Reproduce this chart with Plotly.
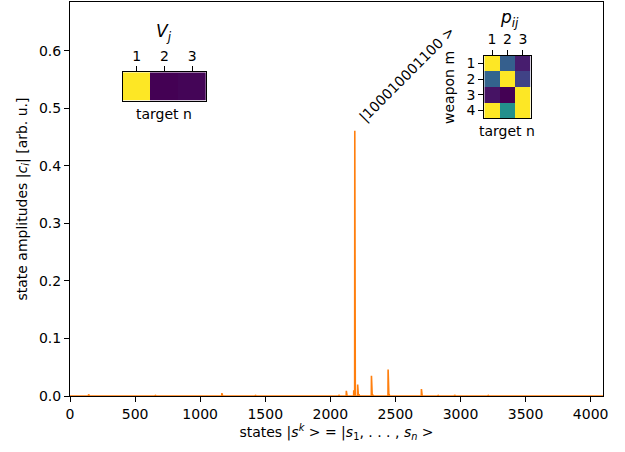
import numpy as np
import plotly.graph_objects as go

# ---- data ----
n_states = 4096
peak_states = [143, 655, 1167, 1424, 2066, 2123, 2180, 2188, 2191, 2210, 2220, 2316, 2328, 2444, 2452, 2700, 2827, 2955, 3212]
peak_amps = [0.003, 0.0015, 0.005, 0.0015, 0.002, 0.009, 0.010, 0.461, 0.004, 0.020, 0.003, 0.035, 0.002, 0.046, 0.003, 0.012, 0.0015, 0.002, 0.0015]

V_targets = [1, 2, 3]
V_values = [1.0, 0.0, 0.01]

p_targets = [1, 2, 3]
p_weapons = [1, 2, 3, 4]
p_values = [
    [1.00, 0.30, 0.08],
    [0.32, 1.00, 0.20],
    [0.05, 0.00, 1.00],
    [1.00, 0.50, 1.00],
]

x_ticks = [0, 500, 1000, 1500, 2000, 2500, 3000, 3500, 4000]
y_ticks = [0.0, 0.1, 0.2, 0.3, 0.4, 0.5, 0.6]
best_state_label = "|100010001100 >"

# ---- build amplitude vector ----
states = np.arange(n_states)
amps = np.zeros(n_states)
for s, a in zip(peak_states, peak_amps):
    amps[s] = a

W, H = 625, 452
L, R, T, B = 70, 22, 2, 56
pw, ph = W - L - R, H - T - B


def px(x):
    return (x - L) / pw


def py(y):
    return (H - B - y) / ph


font = dict(family="DejaVu Sans", size=14, color="black")

fig = go.Figure()
fig.add_trace(go.Scatter(x=states, y=amps, mode="lines",
                         line=dict(color="#ff7f0e", width=1.6),
                         showlegend=False, hoverinfo="skip"))

fig.add_trace(go.Heatmap(z=[V_values], x=V_targets, y=[0], colorscale="Viridis",
                         zmin=0, zmax=1, showscale=False, xaxis="x2", yaxis="y2"))
fig.add_trace(go.Heatmap(z=p_values, x=p_targets, y=p_weapons, colorscale="Viridis",
                         zmin=0, zmax=1, showscale=False, xaxis="x3", yaxis="y3"))

axis_common = dict(showline=True, linecolor="black", linewidth=1, mirror=True,
                   ticks="outside", ticklen=5, tickcolor="black", tickwidth=1,
                   showgrid=False, zeroline=False, tickfont=font, automargin=False)

fig.update_layout(
    width=W, height=H,
    margin=dict(l=L, r=R, t=T, b=B),
    plot_bgcolor="white", paper_bgcolor="white",
    font=font,
    xaxis=dict(range=[0, 4095], tickvals=x_ticks,
               title=dict(text="states |<i>s</i><sup><i>k</i></sup> > = |<i>s</i><sub>1</sub>, . . . , <i>s</i><sub><i>n</i></sub> >",
                          font=font, standoff=6),
               **axis_common),
    yaxis=dict(range=[0, 0.685], tickvals=y_ticks, tickformat=".1f",
               title=dict(text="state amplitudes |<i>c<sub>i</sub></i>| [arb. u.]", font=font, standoff=8),
               **axis_common),
    xaxis2=dict(domain=[px(122.7), px(206)], anchor="y2", side="top",
                tickvals=V_targets, range=[0.5, 3.5], **axis_common),
    yaxis2=dict(domain=[py(100.7), py(72.3)], anchor="x2", range=[-0.5, 0.5],
                showticklabels=False, showline=True, linecolor="black", mirror=True,
                ticks="", showgrid=False, zeroline=False, automargin=False),
    xaxis3=dict(domain=[px(484.3), px(530.7)], anchor="y3", side="top",
                tickvals=p_targets, range=[0.5, 3.5], **axis_common),
    yaxis3=dict(domain=[py(118.3), py(55.7)], anchor="x3", range=[4.5, 0.5],
                tickvals=p_weapons, **axis_common),
)


def note(text, x, y, size=14, angle=0):
    return dict(text=text, x=px(x), y=py(y), xref="paper", yref="paper",
                xanchor="center", yanchor="middle", showarrow=False, textangle=angle,
                font=dict(family="DejaVu Sans", size=size, color="black"))


ann = [
    note("<i>V<sub>j</sub></i>", 164, 33, size=17),
    note("target n", 164, 114),
    note("<i>p<sub>ij</sub></i>", 509, 19, size=17),
    note("target n", 507, 131),
    note("weapon m", 449, 88, angle=-90),
    note(best_state_label, 407, 74, angle=-45),
]
fig.update_layout(annotations=ann)

fig.write_html("out.html",
               config={"displayModeBar": False},
               post_script="document.body.style.margin='0';document.body.style.padding='0';")
